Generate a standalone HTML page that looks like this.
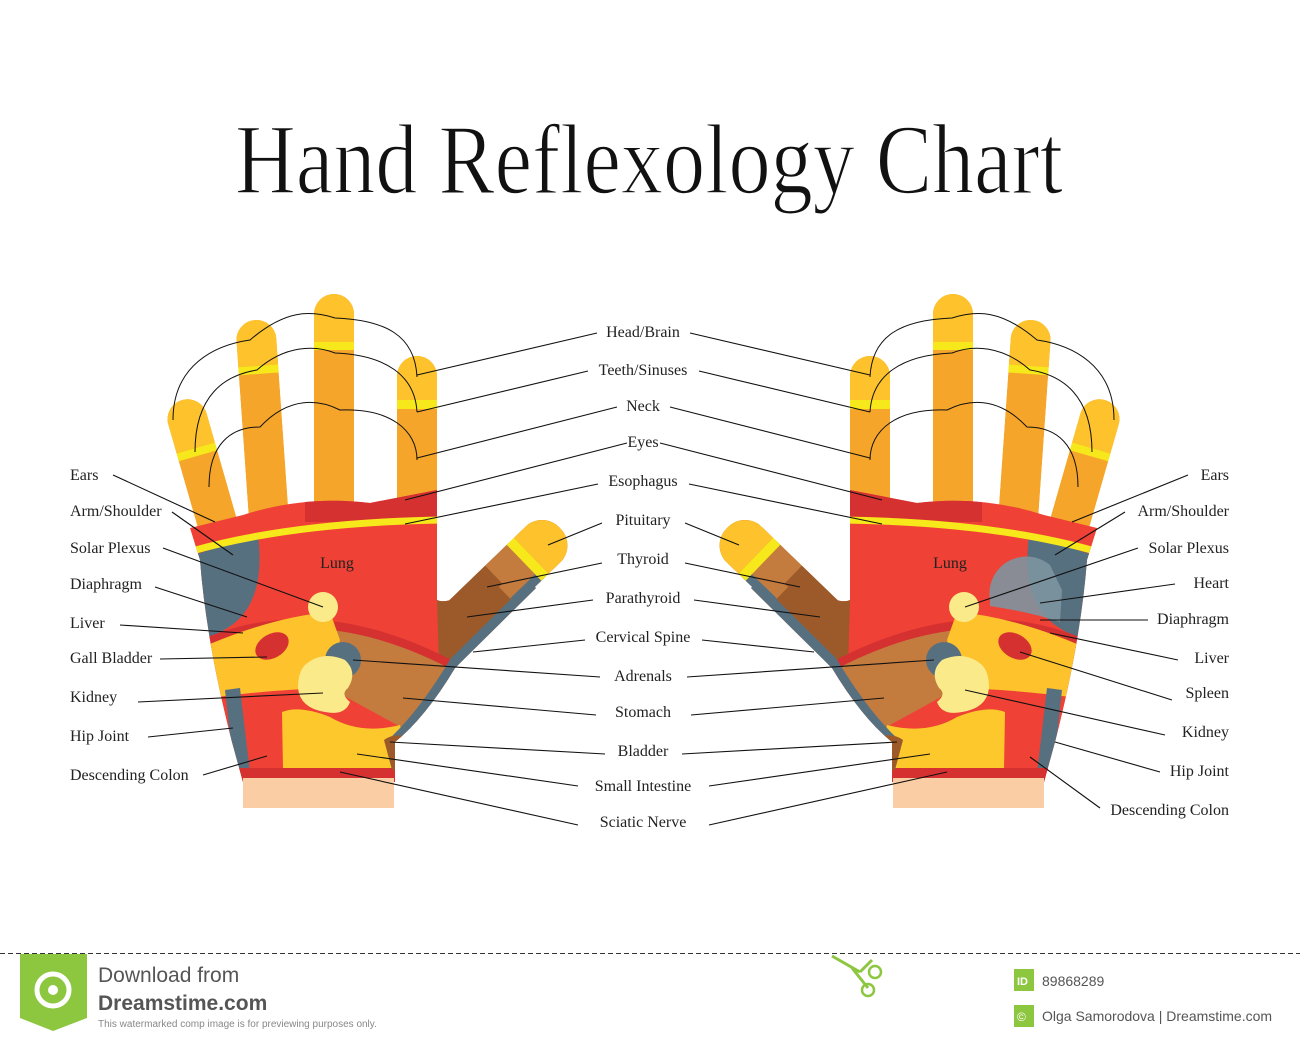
<!DOCTYPE html>
<html><head><meta charset="utf-8"><style>
html,body{margin:0;padding:0;background:#fff;}
svg{display:block}
.l{font-family:"Liberation Serif",serif;font-size:16px;fill:#222}
.ln{stroke:#111;stroke-width:1.1;fill:none}
.c{stroke:#111;stroke-width:1;fill:none}
</style></head><body>
<svg width="1300" height="1043" viewBox="0 0 1300 1043" xmlns="http://www.w3.org/2000/svg">
<defs>
<clipPath id="palm"><path d="M190 528 L243 515 Q305 495 370 503 L437 490 L437 600 C450 606 470 590 505 565 L536 588 L455 668 Q425 718 395 742 L395 782 L243 782 L232 742 Q206 640 200 560 Z"/></clipPath>
<clipPath id="f"><rect x="-20" y="0" width="40" height="240" rx="20"/></clipPath>
<clipPath id="th"><rect x="-25" y="0" width="50" height="170" rx="24"/></clipPath>
<clipPath id="th2"><path d="M-25 24 A25 24 0 0 1 25 24 L25 85 L-25 85 Z"/></clipPath>
<g id="thumbc"><rect x="-25" y="0" width="50" height="170" fill="#C47B3E"/><rect x="-25" y="80" width="25" height="90" fill="#9C5A2A"/><rect x="16" y="45" width="10" height="125" fill="#577080"/><rect x="-25" y="0" width="50" height="40" fill="#FDC22C"/><rect x="-25" y="40" width="50" height="10" fill="#F7E81B"/></g>
<g id="hand">
 <g transform="translate(182,400) rotate(-16)"><g clip-path="url(#f)"><rect x="-20" y="0" width="40" height="240" fill="#F5A52A"/><rect x="-20" y="0" width="40" height="50" fill="#FDC22C"/><rect x="-20" y="50" width="40" height="8" fill="#F7E81B"/></g></g>
 <g transform="translate(255,320) rotate(-4)"><g clip-path="url(#f)"><rect x="-20" y="0" width="40" height="240" fill="#F5A52A"/><rect x="-20" y="0" width="40" height="46" fill="#FDC22C"/><rect x="-20" y="46" width="40" height="8" fill="#F7E81B"/></g></g>
 <g transform="translate(334,294)"><g clip-path="url(#f)"><rect x="-20" y="0" width="40" height="240" fill="#F5A52A"/><rect x="-20" y="0" width="40" height="48" fill="#FDC22C"/><rect x="-20" y="48" width="40" height="8" fill="#F7E81B"/></g></g>
 <g transform="translate(417,356)"><g clip-path="url(#f)"><rect x="-20" y="0" width="40" height="240" fill="#F5A52A"/><rect x="-20" y="0" width="40" height="44" fill="#FDC22C"/><rect x="-20" y="44" width="40" height="9" fill="#F7E81B"/></g></g>
 <g transform="translate(560,528) rotate(46)"><g clip-path="url(#th)"><use href="#thumbc"/></g></g>
 <g clip-path="url(#palm)">
  <rect x="180" y="480" width="360" height="310" fill="#EF4135"/>
  <rect x="305" y="480" width="135" height="42" fill="#D63131"/>
  <path d="M190 556 L258 535 Q266 600 232 625 Q212 638 198 645 Z" fill="#577080"/>
  <path d="M185 553 Q290 522 445 520" stroke="#F7E81B" stroke-width="7" fill="none"/>
  <path d="M437 600 L505 560 L540 585 L455 668 L440 700 Z" fill="#9C5A2A"/>
  <path d="M196 642 Q320 585 470 670 L470 700 L196 700 Z" fill="#D63131"/>
  <path d="M196 650 Q320 596 462 675 L420 735 Q380 722 345 702 L196 705 Z" fill="#C47B3E"/>
  <path d="M196 650 Q270 617 330 612 L340 640 L328 690 Q260 692 196 705 Z" fill="#FDC22C"/>
  <path d="M196 700 Q260 690 330 688 Q360 705 410 732 L420 790 L196 790 Z" fill="#EF4135"/>
  <path d="M282 712 Q300 705 330 717 Q360 735 400 725 L410 770 L283 770 Z" fill="#FDC82C"/>
  <path d="M225 690 L240 688 L252 790 L236 790 Z" fill="#577080"/>
  <path d="M230 768 L400 768 L400 790 L230 790 Z" fill="#D63131"/>
  <path d="M534 584 L455 662 Q425 712 396 740" stroke="#577080" stroke-width="11" fill="none"/>
  <path d="M384 740 Q395 732 410 738 L412 770 L392 770 Z" fill="#9C5A2A"/>
  <ellipse cx="272" cy="646" rx="18" ry="12" transform="rotate(-30 272 646)" fill="#D63131"/>
  <circle cx="323" cy="607" r="15" fill="#FBEA8A"/>
  <circle cx="343" cy="660" r="18" fill="#577080"/>
  <path d="M305 665 Q322 650 345 660 Q358 672 348 688 Q340 694 350 702 Q345 716 325 712 Q300 708 298 688 Q298 672 305 665 Z" fill="#FBEA8A"/>
 </g>
 <g transform="translate(560,528) rotate(46)"><g clip-path="url(#th2)"><use href="#thumbc"/></g></g>
 <rect x="243" y="778" width="151" height="30" fill="#FBCDA5"/>
 <path class="c" d="M173 420 C173 365 215 345 250 340 C285 310 310 310 335 318 C385 320 415 335 417 377"/>
 <path class="c" d="M195 452 C195 395 225 375 257 370 C285 345 315 345 335 353 C385 355 415 375 417 412"/>
 <path class="c" d="M209 487 C209 445 230 427 260 427 C290 395 320 400 340 410 C390 408 417 430 417 460"/>
</g>
</defs>

<text x="235" y="193" textLength="828" lengthAdjust="spacingAndGlyphs" font-family="Liberation Serif, serif" font-size="100" fill="#111" stroke="#fff" stroke-width="1.6">Hand Reflexology Chart</text>

<use href="#hand"/>
<use href="#hand" transform="translate(1287,0) scale(-1,1)"/>
<path d="M990 600 A37 37 0 0 1 1050 565 L1062 590 L1060 622 Q1030 612 990 606 Z" fill="#7D95A0" opacity="0.9"/>

<text class="l" x="337" y="568" text-anchor="middle">Lung</text>
<text class="l" x="950" y="568" text-anchor="middle">Lung</text>

<g class="l">
<text x="70" y="480">Ears</text><text x="70" y="516">Arm/Shoulder</text><text x="70" y="553">Solar Plexus</text><text x="70" y="589">Diaphragm</text><text x="70" y="628">Liver</text><text x="70" y="663">Gall Bladder</text><text x="70" y="702">Kidney</text><text x="70" y="741">Hip Joint</text><text x="70" y="780">Descending Colon</text>
</g>
<g class="ln">
<path d="M113 475L215 522M172 512L233 555M163 548L323 607M155 587L247 617M120 625L243 633M160 659L267 657M138 702L323 693M148 737L233 728M203 775L267 756"/>
</g>
<g class="l" text-anchor="middle">
<text x="643" y="337">Head/Brain</text><text x="643" y="375">Teeth/Sinuses</text><text x="643" y="411">Neck</text><text x="643" y="447">Eyes</text><text x="643" y="486">Esophagus</text><text x="643" y="525">Pituitary</text><text x="643" y="564">Thyroid</text><text x="643" y="603">Parathyroid</text><text x="643" y="642">Cervical Spine</text><text x="643" y="681">Adrenals</text><text x="643" y="717">Stomach</text><text x="643" y="756">Bladder</text><text x="643" y="791">Small Intestine</text><text x="643" y="827">Sciatic Nerve</text>
</g>
<g class="ln" id="cl">
<path d="M597 333L417 375M588 371L417 412M617 407L417 458M627 443L405 500M598 484L405 524M602 523L548 545M602 563L487 587M593 600L467 617M585 640L473 652M600 677L353 660M596 715L403 698M605 754L390 742M578 786L357 754M578 825L340 772"/>
</g>
<use href="#cl" transform="translate(1287,0) scale(-1,1)"/>
<g class="l" text-anchor="end">
<text x="1229" y="480">Ears</text><text x="1229" y="516">Arm/Shoulder</text><text x="1229" y="553">Solar Plexus</text><text x="1229" y="588">Heart</text><text x="1229" y="624">Diaphragm</text><text x="1229" y="663">Liver</text><text x="1229" y="698">Spleen</text><text x="1229" y="737">Kidney</text><text x="1229" y="776">Hip Joint</text><text x="1229" y="815">Descending Colon</text>
</g>
<g class="ln">
<path d="M1188 475L1072 522M1125 512L1055 555M1138 548L965 607M1175 584L1040 603M1148 620L1040 620M1178 660L1050 633M1172 700L1020 652M1165 735L965 690M1160 772L1055 742M1100 808L1030 757"/>
</g>

<line x1="0" y1="953.5" x2="1300" y2="953.5" stroke="#333" stroke-dasharray="5,3" stroke-width="1"/>
<path d="M20 954 L87 954 L87 1018 L53 1031 L20 1018 Z" fill="#8DC63F"/>
<circle cx="53" cy="990" r="16" fill="none" stroke="#fff" stroke-width="5"/>
<circle cx="53" cy="990" r="5" fill="#fff"/>
<text x="98" y="982" font-family="Liberation Sans,sans-serif" font-size="21" fill="#555">Download from</text>
<text x="98" y="1010" font-family="Liberation Sans,sans-serif" font-size="21" font-weight="bold" fill="#555">Dreamstime.com</text>
<text x="98" y="1027" font-family="Liberation Sans,sans-serif" font-size="10" fill="#888">This watermarked comp image is for previewing purposes only.</text>
<path d="M832 956 L860 972 M860 972 L872 960 M852 968 L868 988" stroke="#8DC63F" stroke-width="3" fill="none"/>
<circle cx="875" cy="972" r="6" fill="none" stroke="#8DC63F" stroke-width="2.5"/>
<circle cx="868" cy="990" r="6" fill="none" stroke="#8DC63F" stroke-width="2.5"/>
<rect x="1014" y="969" width="20" height="22" fill="#8DC63F"/>
<text x="1017" y="985" font-family="Liberation Sans,sans-serif" font-size="11" font-weight="bold" fill="#fff">ID</text>
<text x="1042" y="986" font-family="Liberation Sans,sans-serif" font-size="14" fill="#555">89868289</text>
<rect x="1014" y="1005" width="20" height="22" fill="#8DC63F"/>
<text x="1017" y="1021" font-family="Liberation Sans,sans-serif" font-size="12" fill="#fff">©</text>
<text x="1042" y="1021" font-family="Liberation Sans,sans-serif" font-size="14" fill="#555">Olga Samorodova | Dreamstime.com</text>
</svg>
</body></html>
